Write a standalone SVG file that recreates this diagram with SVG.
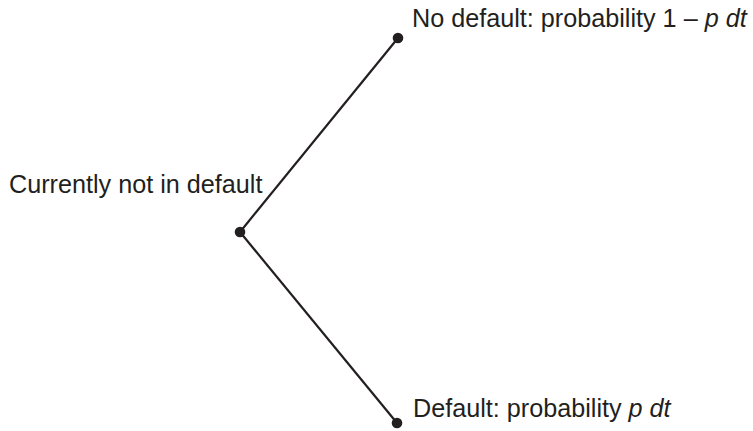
<svg xmlns="http://www.w3.org/2000/svg" width="753" height="431" viewBox="0 0 753 431">
<style>
.t{font-family:"Liberation Sans",Arial,sans-serif;font-size:25.2px;fill:#231f20}
.e{stroke:#231f20;stroke-width:2.2;fill:none}
.d{fill:#231f20}
</style>
<rect width="753" height="431" fill="#fff"/>
<g id="connectors">
<line class="e" x1="240" y1="232" x2="398" y2="38"/>
<line class="e" x1="240" y1="232" x2="397" y2="423"/>
</g>
<g id="root">
<circle class="d" cx="240" cy="232" r="5.3"/>
<text class="t" x="9" y="193">Currently not in default</text>
</g>
<g id="nodefault">
<circle class="d" cx="398" cy="38" r="5.3"/>
<text class="t" x="412" y="27">No default: probability 1 – <tspan font-style="italic">p dt</tspan></text>
</g>
<g id="default">
<circle class="d" cx="397" cy="423" r="5.3"/>
<text class="t" x="413" y="417">Default: probability <tspan font-style="italic">p dt</tspan></text>
</g>
</svg>
